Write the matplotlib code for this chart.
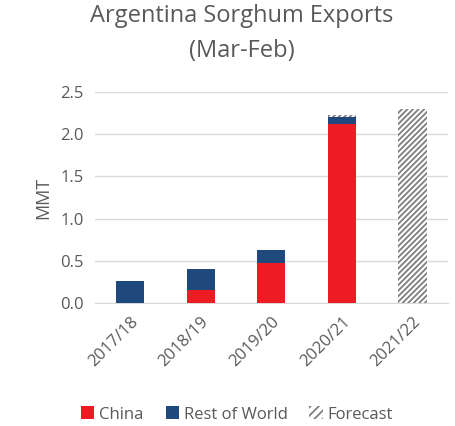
import matplotlib
matplotlib.use("Agg")
import matplotlib.pyplot as plt
from matplotlib.patches import Patch

plt.rcParams["font.family"] = ["Open Sans", "DejaVu Sans"]
plt.rcParams["hatch.linewidth"] = 1.3

years = ["2017/18", "2018/19", "2019/20", "2020/21", "2021/22"]
china = [0.0, 0.15, 0.47, 2.12, 0.0]
rest_of_world = [0.26, 0.25, 0.16, 0.08, 0.0]
forecast = [0.0, 0.0, 0.0, 0.03, 2.30]

RED = "#ed1c24"
BLUE = "#1f497d"
TXT = "#595959"
HATCH = "#7f7f7f"

fig = plt.figure(figsize=(4.56, 4.26), dpi=100)
ax = fig.add_axes([0.208, 0.289, 0.774, 0.495])

x = range(len(years))
w = 0.4
ax.bar(x, china, w, color=RED, zorder=3)
ax.bar(x, rest_of_world, w, bottom=china, color=BLUE, zorder=3)
base = [c + r for c, r in zip(china, rest_of_world)]
ax.bar(x, forecast, w, bottom=base, facecolor="white", edgecolor=HATCH,
       linewidth=0, hatch="//////", zorder=3)

ax.set_xlim(-0.5, len(years) - 0.5)
ax.set_ylim(0, 2.5)
ax.set_yticks([0, 0.5, 1.0, 1.5, 2.0, 2.5])
ax.set_yticklabels([f"{v:.1f}" for v in ax.get_yticks()])
ax.set_xticks(list(x))
ax.set_xticklabels(years, rotation=45, ha="right", rotation_mode="anchor")
ax.grid(axis="y", color="#d9d9d9", linewidth=1, zorder=0)
for s in ["top", "right", "left"]:
    ax.spines[s].set_visible(False)
ax.spines["bottom"].set_color("#d9d9d9")
ax.tick_params(length=0, labelsize=12, colors=TXT, pad=8)
ax.set_ylabel("MMT", fontsize=13, color=TXT, labelpad=6)

fig.text(0.53, 0.962, "Argentina Sorghum Exports", ha="center", va="center",
         fontsize=17, color=TXT)
fig.text(0.53, 0.88, "(Mar-Feb)", ha="center", va="center",
         fontsize=17, color=TXT)

handles = [
    Patch(facecolor=RED, label="China"),
    Patch(facecolor=BLUE, label="Rest of World"),
    Patch(facecolor="white", edgecolor=HATCH, linewidth=0, hatch="////",
          label="Forecast"),
]
leg = fig.legend(handles=handles, loc="center", bbox_to_anchor=(0.52, 0.027),
                 ncol=3, frameon=False, fontsize=12, handlelength=0.8,
                 handleheight=0.8, handletextpad=0.3, columnspacing=1.3)
for t in leg.get_texts():
    t.set_color(TXT)

fig.savefig("out.png", dpi=100)
